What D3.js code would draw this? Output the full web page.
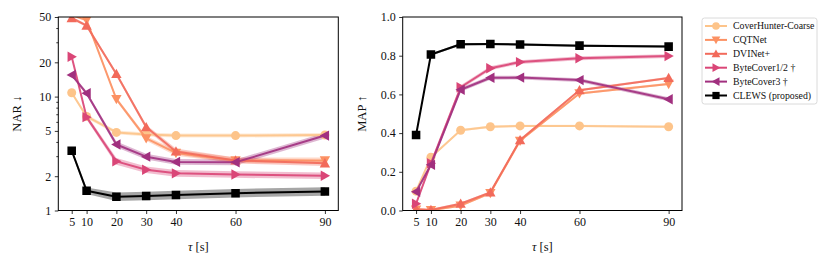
<!DOCTYPE html>
<html>
<head>
<meta charset="utf-8">
<script src="https://cdn.jsdelivr.net/npm/d3@7"></script>
<style>
  body { margin: 0; background: #fff; }
</style>
</head>
<body>
<svg id="chart" width="830" height="268"></svg>
<script>
// x positions (segment length in seconds)
const taus = [5, 10, 20, 30, 40, 60, 90];
const seriesNames = ["CoverHunter-Coarse", "CQTNet", "DVINet+", "ByteCover1/2 \u2020", "ByteCover3 \u2020", "CLEWS (proposed)"];
const seriesColors = ["#fdc48a", "#fc9163", "#f26a5b", "#da4677", "#a1307f", "#000000"];
const seriesSymbols = ["circle", "down", "up", "right", "left", "square"];

// NAR (lower is better), log axis
const narCoverHunter = [10.8, 6.7, 4.85, 4.65, 4.55, 4.55, 4.6];
const narCQTNet = [52, 47, 9.5, 4.3, 3.2, 2.75, 2.75];
const narDVINet = [49, 42, 15.8, 5.4, 3.3, 2.75, 2.6];
const narByteCover12 = [22.4, 6.6, 2.7, 2.28, 2.12, 2.07, 2.02];
const narByteCover3 = [15.5, 10.7, 3.8, 2.97, 2.67, 2.65, 4.55];
const narCLEWS = [3.35, 1.49, 1.32, 1.34, 1.37, 1.42, 1.47];
// relative half-width of the shaded band around each NAR curve
const narBandCoverHunter = [0.03, 0.04, 0.04, 0.04, 0.04, 0.04, 0.04];
const narBandCQTNet = [0.03, 0.03, 0.04, 0.05, 0.06, 0.06, 0.06];
const narBandDVINet = [0.03, 0.03, 0.04, 0.05, 0.06, 0.06, 0.06];
const narBandByteCover12 = [0.03, 0.05, 0.07, 0.07, 0.07, 0.07, 0.07];
const narBandByteCover3 = [0.03, 0.04, 0.06, 0.06, 0.06, 0.06, 0.06];
const narBandCLEWS = [0.04, 0.07, 0.09, 0.09, 0.09, 0.09, 0.09];

// MAP (higher is better)
const mapCoverHunter = [0.1, 0.275, 0.415, 0.433, 0.437, 0.437, 0.433];
const mapCQTNet = [0.004, 0.002, 0.025, 0.09, 0.36, 0.605, 0.654];
const mapDVINet = [0.006, 0.003, 0.035, 0.094, 0.364, 0.622, 0.685];
const mapByteCover12 = [0.035, 0.244, 0.637, 0.735, 0.767, 0.787, 0.798];
const mapByteCover3 = [0.097, 0.236, 0.624, 0.686, 0.687, 0.674, 0.575];
const mapCLEWS = [0.39, 0.806, 0.859, 0.86, 0.858, 0.852, 0.847];
const mapBand = [0.006, 0.006, 0.006, 0.01, 0.01, 0.006];

const narTicks = [1, 2, 5, 10, 20, 50];
const narMinorTicks = [3, 4, 6, 7, 8, 9, 30, 40];
const mapTicks = [0, 0.2, 0.4, 0.6, 0.8, 1.0];

const narSeries = [narCoverHunter, narCQTNet, narDVINet, narByteCover12, narByteCover3, narCLEWS];
const narBands = [narBandCoverHunter, narBandCQTNet, narBandDVINet, narBandByteCover12, narBandByteCover3, narBandCLEWS];
const mapSeries = [mapCoverHunter, mapCQTNet, mapDVINet, mapByteCover12, mapByteCover3, mapCLEWS];

const FONT = "'Liberation Serif', 'Times New Roman', 'DejaVu Serif', serif";
const svg = d3.select("#chart");
const plotTop = 17, plotBottom = 210.5;

// marker path builder, centred at 0,0
function markerPath(type, r) {
  if (type === "circle") return d3.symbol(d3.symbolCircle, Math.PI * r * r)();
  if (type === "square") { const s = r * 0.95; return `M${-s},${-s}H${s}V${s}H${-s}Z`; }
  const a = r * 1.15;
  const pts = { up: [[0, -a], [a, a * 0.8], [-a, a * 0.8]],
                down: [[0, a], [a, -a * 0.8], [-a, -a * 0.8]],
                right: [[a, 0], [-a * 0.8, a], [-a * 0.8, -a]],
                left: [[-a, 0], [a * 0.8, a], [a * 0.8, -a]] }[type];
  return "M" + pts.map(p => p.join(",")).join("L") + "Z";
}

function drawPanel(id, left, right, y, series, bands, yTicks, yFmt, minor, yLabel) {
  const x = d3.scaleLinear().domain([0.5, 94.5]).range([left, right]);
  const g = svg.append("g");

  g.append("clipPath").attr("id", id)
    .append("rect").attr("x", left).attr("y", plotTop).attr("width", right - left).attr("height", plotBottom - plotTop);
  const plot = g.append("g").attr("clip-path", `url(#${id})`);

  // shaded bands
  series.forEach((vals, si) => {
    const b = bands[si];
    const area = d3.area()
      .x((d, i) => x(taus[i]))
      .y0((d, i) => y(b.log ? d / (1 + b.v[i]) : d - b.v[i]))
      .y1((d, i) => y(b.log ? d * (1 + b.v[i]) : d + b.v[i]));
    plot.append("path").attr("d", area(vals))
      .attr("fill", seriesColors[si]).attr("fill-opacity", 0.35).attr("stroke", "none");
  });

  // lines and markers
  series.forEach((vals, si) => {
    const line = d3.line().x((d, i) => x(taus[i])).y(d => y(d));
    plot.append("path").attr("d", line(vals))
      .attr("fill", "none").attr("stroke", seriesColors[si]).attr("stroke-width", 2)
      .attr("stroke-opacity", si === 5 ? 1 : 0.9).attr("stroke-linejoin", "round");
    plot.selectAll(null).data(vals).enter().append("path")
      .attr("d", markerPath(seriesSymbols[si], 4.5))
      .attr("transform", (d, i) => `translate(${x(taus[i])},${y(d)})`)
      .attr("fill", seriesColors[si]);
  });

  // axes
  const xAxis = d3.axisBottom(x).tickValues(taus).tickSize(3.5).tickPadding(3.5).tickFormat(d3.format("d"));
  const ax = g.append("g").attr("transform", `translate(0,${plotBottom})`).call(xAxis);
  const yAxis = d3.axisLeft(y).tickValues(yTicks).tickSize(3.5).tickPadding(3.5).tickFormat(yFmt);
  const ay = g.append("g").attr("transform", `translate(${left},0)`).call(yAxis);
  if (minor) {
    g.append("g").attr("transform", `translate(${left},0)`)
      .call(d3.axisLeft(y).tickValues(minor).tickSize(2).tickFormat(""))
      .select(".domain").remove();
  }
  [ax, ay].forEach(a => {
    a.select(".domain").remove();
    a.attr("font-family", FONT);
    a.selectAll("text").attr("font-size", 12).style("font-family", FONT).style("fill", "#111");
  });
  g.selectAll(".tick line").attr("stroke", "#000").attr("stroke-width", 0.8);

  g.append("rect").attr("x", left).attr("y", plotTop).attr("width", right - left).attr("height", plotBottom - plotTop)
    .attr("fill", "none").attr("stroke", "#000").attr("stroke-width", 1);

  // labels
  const xl = g.append("text").attr("x", (left + right) / 2).attr("y", 251)
    .attr("text-anchor", "middle").attr("font-size", 12.5).style("font-family", FONT).style("fill", "#111");
  xl.append("tspan").attr("font-style", "italic").text("\u03c4");
  xl.append("tspan").text(" [s]");
  g.append("text").attr("transform", `translate(${left - 37},${(plotTop + plotBottom) / 2}) rotate(-90)`)
    .attr("text-anchor", "middle").attr("font-size", 12.5).style("font-family", FONT).style("fill", "#111")
    .text(yLabel);
}

// left panel: NAR on a log axis
const yNar = d3.scaleLog().domain([1, 50]).range([plotBottom, plotTop]);
drawPanel("clipNar", 58.3, 338.3, yNar, narSeries,
  narBands.map(v => ({ log: true, v })), narTicks, d3.format("d"), narMinorTicks, "NAR \u2193");

// right panel: MAP on a linear axis
const yMap = d3.scaleLinear().domain([0, 1]).range([plotBottom, plotTop]);
drawPanel("clipMap", 402.7, 682, yMap, mapSeries,
  mapBand.map(w => ({ log: false, v: taus.map(() => w) })), mapTicks, d3.format(".1f"), null, "MAP \u2191");

// legend
const lg = svg.append("g").attr("transform", "translate(702,18)");
lg.append("rect").attr("width", 115).attr("height", 86).attr("rx", 2.5)
  .attr("fill", "#fff").attr("stroke", "#d0d0d0").attr("stroke-width", 0.8);
seriesNames.forEach((name, i) => {
  const yy = 8 + i * 13.9;
  lg.append("line").attr("x1", 3).attr("x2", 25).attr("y1", yy).attr("y2", yy)
    .attr("stroke", seriesColors[i]).attr("stroke-width", 2);
  lg.append("path").attr("d", markerPath(seriesSymbols[i], 3.8))
    .attr("transform", `translate(14,${yy})`).attr("fill", seriesColors[i]);
  lg.append("text").attr("x", 31).attr("y", yy + 3.3).attr("font-size", 9.8)
    .style("font-family", FONT).style("fill", "#111").text(name);
});
</script>
</body>
</html>
